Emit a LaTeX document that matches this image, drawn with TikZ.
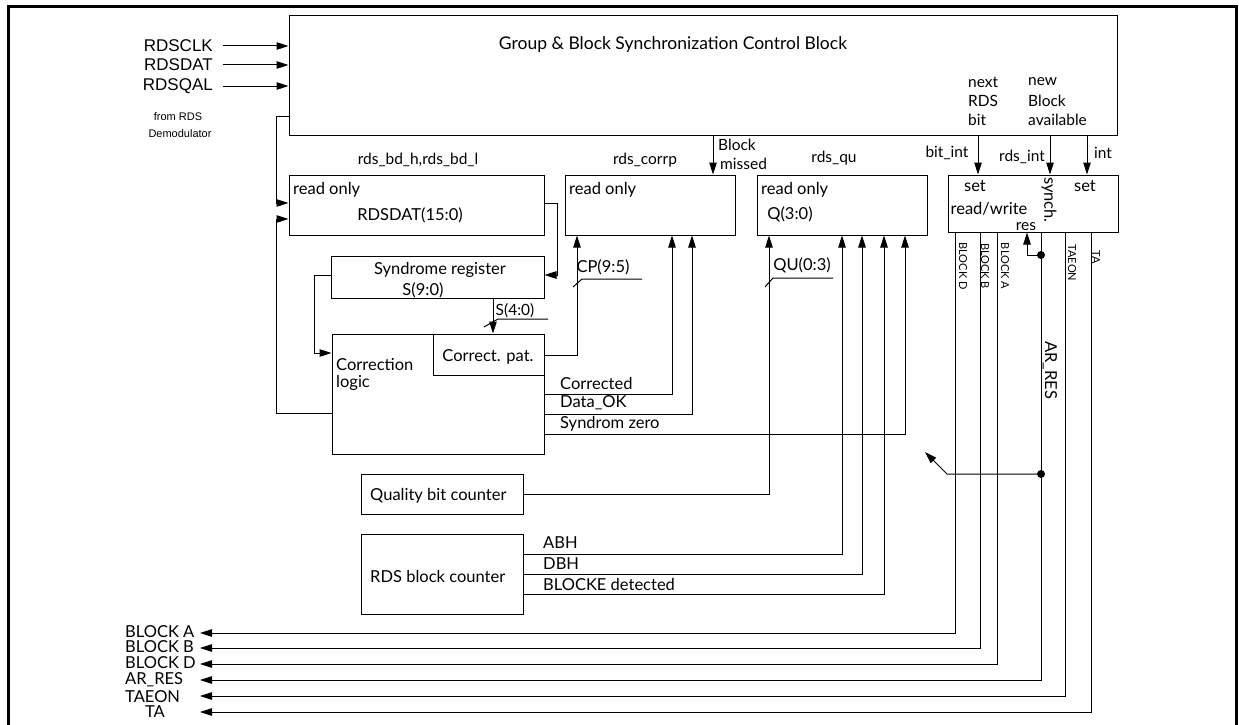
\documentclass[tikz,border=0pt]{standalone}
\usepackage{fontspec}
\setmainfont{Lato}
\newfontfamily\arialf{Liberation Sans}
\usetikzlibrary{arrows.meta,calc}
\begin{document}
\begin{tikzpicture}[x=1pt,y=-1pt,
  txt/.style={inner sep=0pt, font=\fontsize{15.5}{17}\selectfont},
  txtb/.style={inner sep=0pt, font=\fontsize{16.5}{18}\selectfont},
  txta/.style={inner sep=0pt, font=\arialf\fontsize{17}{19}\selectfont},
  txts/.style={inner sep=0pt, font=\arialf\fontsize{11}{13}\selectfont},
  txtr/.style={inner sep=0pt, rotate=-90, font=\fontsize{11}{13}\selectfont},
  blk/.style={draw, line width=1pt, inner sep=0pt, minimum width=#1},
  wire/.style={line width=1pt},
  arr/.style={wire, -{Triangle[length=12pt,width=7.5pt]}},
  dot/.style={circle, fill, inner sep=0pt, minimum size=8pt}]
\useasboundingbox (0,0) rectangle (1239,725);
% outer frame
\draw[line width=3pt] (8,725) -- (8,7) -- (1236,7) -- (1236,725);

% boxes
\node[blk=828pt, minimum height=119pt] (grp) at (703,75.5) {};
\node[blk=255pt, minimum height=60pt] (bd) at (416.5,205) {};
\node[blk=170pt, minimum height=60pt] (corrp) at (650,205) {};
\node[blk=170pt, minimum height=60pt] (qu) at (842,205) {};
\node[blk=170pt, minimum height=57pt] (intr) at (1033,203.5) {};
\node[blk=213pt, minimum height=42pt] (syn) at (437.5,277) {};
\node[blk=212pt, minimum height=120pt] (corr) at (438,394) {};
\node[blk=111pt, minimum height=41pt] (pat) at (488.5,354.5) {};
\node[blk=162pt, minimum height=40pt] (qbc) at (442,494) {};
\node[blk=162pt, minimum height=80pt] (rbc) at (442,574) {};

% texts in/around group block
\node[inner sep=0pt, font=\fontsize{17.5}{19}\selectfont] (title) at (673,45) {Group \& Block Synchronization Control Block};
\node[txta, anchor=east] (in1) at (213,46) {RDSCLK};
\node[txta, anchor=east] (in2) at (213,65) {RDSDAT};
\node[txta, anchor=east] (in3) at (213,86) {RDSQAL};
\node[txts] (frm1) at (178,117) {from RDS};
\node[txts] (frm2) at (180,134) {Demodulator};
\node[txt, anchor=west] (nx1) at (968,82) {next};
\node[txt, anchor=west] (nx2) at (968,101) {RDS};
\node[txt, anchor=west] (nx3) at (968,120) {bit};
\node[txt, anchor=west] (nw1) at (1028,82) {new};
\node[txt, anchor=west] (nw2) at (1028,101) {Block};
\node[txt, anchor=west] (nw3) at (1028,120) {available};

% register titles
\node[txt] (tbd) at (418,160) {rds\_bd\_h,rds\_bd\_l};
\node[txt] (tcorrp) at (645,160) {rds\_corrp};
\node[txt] (tqu) at (834,158) {rds\_qu};
\node[txt, anchor=west] (bm1) at (718,145) {Block};
\node[txt, anchor=west] (bm2) at (720,164) {missed};
\node[txt] (tbit) at (947,153) {bit\_int};
\node[txt] (trds) at (1022,157) {rds\_int};
\node[txt] (tint) at (1103,153) {int};

% inside registers
\node[txtb, anchor=west] (ro1) at (293,190) {read only};
\node[txtb, anchor=west] (ro2) at (569,190) {read only};
\node[txtb, anchor=west] (ro3) at (761,190) {read only};
\node[txtb] (rdsdat) at (410,215) {RDSDAT(15:0)};
\node[txtb] (q30) at (790,214) {Q(3:0)};
\node[txtb] (set1) at (975,186) {set};
\node[txtb] (rw) at (989,209) {read/write};
\node[txt] (res) at (1026,227) {res};
\node[txtb, rotate=-90] (synch) at (1049,200) {synch.};
\node[txtb] (set2) at (1085,186) {set};

% syndrome / correction
\node[txtb] (synl) at (440,270) {Syndrome register};
\node[txtb] (s90) at (423,290) {S(9:0)};
\node[txt] (s40) at (515,311) {S(4:0)};
\node[txtb] (cp95) at (603,267) {CP(9:5)};
\node[txtb] (qu03) at (802,265) {QU(0:3)};
\node[txtb, anchor=west] (cl1) at (336,365) {Correction};
\node[txtb, anchor=west] (cl2) at (336,383) {logic};
\node[txtb] (cpat) at (488,357) {Correct. pat.};
\node[txtb, anchor=west] (lcor) at (560,383) {Corrected};
\node[txtb, anchor=west] (lok) at (560,403) {Data\_OK};
\node[txtb, anchor=west] (lsz) at (560,424) {Syndrom zero};
\node[txtb, anchor=west] (lqbc) at (370,496) {Quality bit counter};
\node[txtb, anchor=west] (lrbc) at (370,576) {RDS block counter};
\node[txtb, anchor=west] (labh) at (543,543) {ABH};
\node[txtb, anchor=west] (ldbh) at (543,564) {DBH};
\node[txtb, anchor=west] (lbe) at (543,584) {BLOCKE detected};

% rotated labels under interrupt register
\node[txtr] (rbd) at (963,266) {BLOCK D};
\node[txtr] (rbb) at (985,266) {BLOCK B};
\node[txtr] (rba) at (1005,266) {BLOCK A};
\node[txtr] (rtaeon) at (1072,263) {TAEON};
\node[txtr] (rta) at (1096,257) {TA};
\node[txtb, rotate=-90] (rarres) at (1050,370) {AR\_RES};

% output labels
\node[txtb, anchor=west] (oA) at (125,632) {BLOCK A};
\node[txtb, anchor=west] (oB) at (125,647) {BLOCK B};
\node[txtb, anchor=west] (oD) at (125,663) {BLOCK D};
\node[txtb, anchor=west] (oAR) at (125,680) {AR\_RES};
\node[txtb, anchor=west] (oTE) at (125,697) {TAEON};
\node[txtb] (oTA) at (155,712) {TA};
\coordinate (tA) at (200,633);
\coordinate (tB) at (200,648);
\coordinate (tD) at (200,664);
\coordinate (tAR) at (200,680);
\coordinate (tTE) at (200,696);
\coordinate (tTA) at (200,712);

% inputs
\draw[arr] ([xshift=10pt]in1.east) -- (in1 -| grp.west);
\draw[arr] ([xshift=10pt]in2.east) -- (in2 -| grp.west);
\draw[arr] ([xshift=10pt]in3.east) -- (in3 -| grp.west);

% feedback into rds_bd
\draw[arr] (grp.west |- 0,116) -| (276,203) -- (bd.west |- 0,203);
\draw[arr] (corr.west |- 0,413) -| (276,219) -- (bd.west |- 0,219);
% rds_bd -> syndrome
\draw[arr] (bd.east |- 0,203) -| (557,275) -- (syn.east |- 0,275);
% syndrome -> correction
\draw[arr] (syn.west |- 0,275) -| (314,353) -- (corr.west |- 0,353);
% S(4:0)
\draw[arr] (syn.south -| 493,0) -- (pat.north -| 493,0);
\draw[wire] (484,327) -- (498,319) -- (548,319);
% CP(9:5)
\draw[arr] (pat.east |- 0,355) -| (corrp.south -| 577,0);
\draw[wire] (573,287) -- (582,279) -- (642,279);
% status lines
\draw[arr] (corr.east |- 0,394) -| (corrp.south -| 672,0);
\draw[arr] (corr.east |- 0,414) -| (corrp.south -| 692,0);
\draw[arr] (corr.east |- 0,434) -| (qu.south -| 905,0);
% block missed
\draw[arr] (grp.south -| 713,0) -- (corrp.north -| 713,0);
% quality bit counter
\draw[arr] (qbc.east |- 0,494) -| (qu.south -| 769,0);
\draw[wire] (765,287) -- (773,278) -- (833,278);
% block counter
\draw[arr] (rbc.east |- 0,554) -| (qu.south -| 842,0);
\draw[arr] (rbc.east |- 0,574) -| (qu.south -| 862,0);
\draw[arr] (rbc.east |- 0,594) -| (qu.south -| 884,0);
% interrupts
\draw[arr] (grp.south -| 978,0) -- (intr.north -| 978,0);
\draw[arr] (grp.south -| 1050,0) -- (intr.north -| 1050,0);
\draw[arr] (grp.south -| 1087,0) -- (intr.north -| 1087,0);
% outputs
\draw[arr] (intr.south -| 955,0) |- (tA);
\draw[arr] (intr.south -| 980,0) |- (tB);
\draw[arr] (intr.south -| 997,0) |- (tD);
\draw[arr] (intr.south -| 1041,0) |- (tAR);
\draw[arr] (intr.south -| 1065,0) |- (tTE);
\draw[arr] (intr.south -| 1091,0) |- (tTA);
% res
\node[dot] (d1) at (1041,255) {};
\draw[arr] (d1.center) -| (intr.south -| 1027,0);
\node[dot] (d2) at (1041,474) {};
\coordinate (kink) at (947,474);
\coordinate (tip) at (925,452);
\draw[arr] (d2.center) -- (kink) -- (tip);
\end{tikzpicture}
\end{document}
